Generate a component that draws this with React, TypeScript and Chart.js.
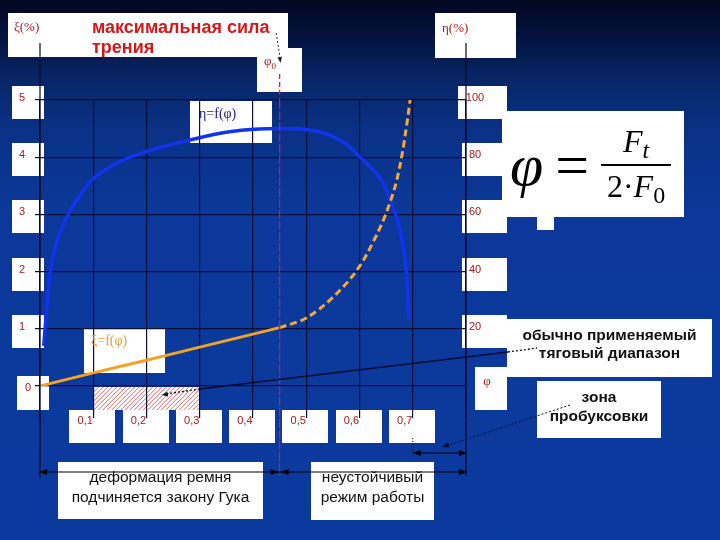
import React, { useEffect, useRef, useState } from "react";
import { Chart, registerables } from "chart.js";

Chart.register(...registerables);

// ---------- data ----------
const xTickValues = [0.1, 0.2, 0.3, 0.4, 0.5, 0.6, 0.7];
const xTickLabels = ["0,1", "0,2", "0,3", "0,4", "0,5", "0,6", "0,7"];
const xiTickValues = [0, 1, 2, 3, 4, 5];
const xiTickLabels = ["0", "1", "2", "3", "4", "5"];
const etaTickValues = [20, 40, 60, 80, 100];
const etaTickLabels = ["20", "40", "60", "80", "100"];

const phiMax = 0.8;
const xiMax = 5;
const etaMax = 100;
const phi0 = 0.45;
const hookeStart = 0.1;
const hookeEnd = 0.3;
const slipStart = 0.7;

// ξ = f(φ), solid part (Hooke region)
const xiSolidPhi = [0, 0.1, 0.2, 0.3, 0.45];
const xiSolidVal = [0, 0.23, 0.45, 0.68, 1.02];
// ξ = f(φ), dashed part
const xiDashPhi = [0.45, 0.5, 0.55, 0.6, 0.63, 0.65, 0.67, 0.68, 0.69, 0.695];
const xiDashVal = [1.02, 1.19, 1.55, 2.09, 2.6, 3.02, 3.6, 4.05, 4.65, 5.0];
// η = f(φ)
const etaPhi = [0.007, 0.0125, 0.019, 0.031, 0.053, 0.069, 0.094, 0.1375, 0.2, 0.281, 0.356, 0.45, 0.506, 0.569, 0.6, 0.644, 0.669, 0.681, 0.688, 0.693];
const etaVal = [14, 27, 39.5, 50, 60, 65, 71.4, 77.3, 82, 86, 88.9, 90, 89.5, 85.4, 80.2, 70.9, 59.2, 49.9, 39.4, 23];

const zip = (xs: number[], ys: number[]) => xs.map((x, i) => ({ x, y: ys[i] }));

const GRID = "#0a0f38";
const LINE = "#06082a";
const LABEL_RED = "#a81818";
const SANS = '"Liberation Sans", Arial, sans-serif';
const SERIF = '"Liberation Serif", "Times New Roman", serif';

function arrowHead(ctx: CanvasRenderingContext2D, x: number, y: number, ang: number, size = 7) {
  ctx.save();
  ctx.translate(x, y);
  ctx.rotate(ang);
  ctx.beginPath();
  ctx.moveTo(0, 0);
  ctx.lineTo(-size, -size * 0.38);
  ctx.lineTo(-size, size * 0.38);
  ctx.closePath();
  ctx.fill();
  ctx.restore();
}

const decorPlugin = {
  id: "decor",
  beforeDraw(chart: any) {
    const { ctx, scales } = chart;
    const xs = scales.x;
    const ys = scales.y;
    const y0 = ys.getPixelForValue(0);
    const xa = xs.getPixelForValue(hookeStart);
    const xb = xs.getPixelForValue(hookeEnd);
    const top = y0 + 1;
    const bot = y0 + 24;
    ctx.save();
    ctx.fillStyle = "#ffffff";
    ctx.fillRect(xa, top, xb - xa, bot - top);
    ctx.beginPath();
    ctx.rect(xa, top, xb - xa, bot - top);
    ctx.clip();
    ctx.strokeStyle = "#e05050";
    ctx.lineWidth = 0.9;
    for (let s = xa - 40; s < xb + 40; s += 4.5) {
      ctx.beginPath();
      ctx.moveTo(s, bot);
      ctx.lineTo(s + (bot - top), top);
      ctx.stroke();
    }
    ctx.restore();
  },
  afterDraw(chart: any) {
    const { ctx, scales } = chart;
    const xs = scales.x;
    const ys = scales.y;
    const xL = xs.getPixelForValue(0);
    const xR = xs.getPixelForValue(phiMax);
    const xP = xs.getPixelForValue(phi0);
    const xS = xs.getPixelForValue(slipStart);
    const y0 = ys.getPixelForValue(0);
    const yTop = ys.getPixelForValue(xiMax);
    ctx.save();
    // long axis lines
    ctx.strokeStyle = LINE;
    ctx.lineWidth = 1.2;
    ctx.beginPath();
    ctx.moveTo(xL, 43);
    ctx.lineTo(xL, 478);
    ctx.moveTo(xR, 43);
    ctx.lineTo(xR, 476);
    ctx.stroke();
    // φ0 line
    ctx.setLineDash([5, 3]);
    ctx.strokeStyle = "#d0203a";
    ctx.lineWidth = 1.3;
    ctx.beginPath();
    ctx.moveTo(xP, 74);
    ctx.lineTo(xP, yTop);
    ctx.stroke();
    ctx.strokeStyle = "#8a2c8c";
    ctx.setLineDash([9, 2]);
    ctx.beginPath();
    ctx.moveTo(xP, yTop);
    ctx.lineTo(xP, 476);
    ctx.stroke();
    // dotted arrow from "сила" to φ0
    ctx.setLineDash([2, 2]);
    ctx.strokeStyle = "#222";
    ctx.lineWidth = 1;
    ctx.beginPath();
    ctx.moveTo(xP - 3.5, 33);
    ctx.lineTo(xP + 0.5, 58);
    ctx.stroke();
    ctx.setLineDash([]);
    ctx.fillStyle = "#222";
    arrowHead(ctx, xP + 1, 63, Math.atan2(25, 4), 6);

    // dimension lines
    ctx.strokeStyle = "#000";
    ctx.fillStyle = "#000";
    ctx.lineWidth = 1;
    const yd = 472;
    ctx.beginPath();
    ctx.moveTo(xL, yd);
    ctx.lineTo(xR, yd);
    ctx.stroke();
    arrowHead(ctx, xL - 1, yd, Math.PI, 8);
    arrowHead(ctx, xP - 1, yd, 0, 8);
    arrowHead(ctx, xP + 1, yd, Math.PI, 8);
    arrowHead(ctx, xR + 1, yd, 0, 8);
    const ys2 = 453;
    ctx.beginPath();
    ctx.moveTo(xS, ys2);
    ctx.lineTo(xR, ys2);
    ctx.stroke();
    arrowHead(ctx, xS, ys2, Math.PI, 8);
    arrowHead(ctx, xR + 1, ys2, 0, 8);
    // dotted tick under 0,7
    ctx.setLineDash([1, 2]);
    ctx.beginPath();
    ctx.moveTo(xS, y0 + 52);
    ctx.lineTo(xS, ys2 - 2);
    ctx.stroke();

    // pointer: traction range -> hatched area
    const xb = xs.getPixelForValue(hookeEnd);
    ctx.strokeStyle = "#080a30";
    ctx.setLineDash([]);
    ctx.lineWidth = 1.3;
    ctx.beginPath();
    ctx.moveTo(xb, y0 + 3);
    ctx.lineTo(508, 352);
    ctx.stroke();
    ctx.setLineDash([2, 2]);
    ctx.beginPath();
    ctx.moveTo(508, 352);
    ctx.lineTo(537, 348);
    ctx.stroke();
    ctx.beginPath();
    ctx.moveTo(xb, y0 + 3);
    ctx.lineTo(xb - 34, y0 + 8);
    ctx.stroke();
    ctx.setLineDash([]);
    ctx.fillStyle = "#080a30";
    arrowHead(ctx, xb - 38, y0 + 9, Math.atan2(5, -34), 6);

    // pointer: slip zone
    ctx.setLineDash([2, 2]);
    ctx.lineWidth = 1;
    ctx.beginPath();
    ctx.moveTo(570, 405);
    ctx.lineTo(446, 446);
    ctx.stroke();
    ctx.setLineDash([]);
    arrowHead(ctx, 442, 447, Math.atan2(41, -124), 7);
    ctx.restore();
  },
};

type Pos = {
  xt: number[];
  yl: number[];
  yr: number[];
  y0: number;
  xR: number;
};

const Box = ({ l, t, w, h }: { l: number; t: number; w: number; h: number }) => (
  <div style={{ position: "absolute", left: l, top: t, width: w, height: h, background: "#ffffff" }} />
);

const Txt = ({ x, y, children, style }: any) => (
  <div
    style={{
      position: "absolute",
      left: x,
      top: y,
      transform: "translate(-50%, -50%)",
      whiteSpace: "nowrap",
      fontFamily: SANS,
      lineHeight: 1,
      ...style,
    }}
  >
    {children}
  </div>
);

export default function App() {
  const canvasRef = useRef<HTMLCanvasElement | null>(null);
  const [pos, setPos] = useState<Pos | null>(null);

  useEffect(() => {
    if (!canvasRef.current) return;
    const chart = new Chart(canvasRef.current, {
      type: "scatter",
      data: {
        datasets: [
          {
            label: "ξ=f(φ)",
            data: zip(xiSolidPhi, xiSolidVal),
            showLine: true,
            borderColor: "#f2a324",
            borderWidth: 3,
            pointRadius: 0,
            yAxisID: "y",
            cubicInterpolationMode: "monotone",
          },
          {
            label: "ξ=f(φ) (dashed)",
            data: zip(xiDashPhi, xiDashVal),
            showLine: true,
            borderColor: "#f4aa34",
            borderDash: [7, 4],
            borderWidth: 3,
            pointRadius: 0,
            yAxisID: "y",
            cubicInterpolationMode: "monotone",
          },
          {
            label: "η=f(φ)",
            data: zip(etaPhi, etaVal),
            showLine: true,
            borderColor: "#1233ec",
            borderWidth: 3.5,
            pointRadius: 0,
            yAxisID: "y2",
            cubicInterpolationMode: "monotone",
          },
        ],
      },
      options: {
        animation: false,
        responsive: false,
        devicePixelRatio: 1,
        layout: { padding: { left: 35, top: 100, right: 254, bottom: 122 } },
        plugins: { legend: { display: false }, tooltip: { enabled: false } },
        scales: {
          x: {
            type: "linear",
            min: 0,
            max: phiMax,
            ticks: { display: false, stepSize: 0.1 },
            grid: { color: GRID, lineWidth: 1.2, drawTicks: true, tickLength: 32, tickColor: GRID },
            border: { display: false },
          },
          y: {
            type: "linear",
            position: "left",
            min: 0,
            max: xiMax,
            ticks: { display: false, stepSize: 1 },
            grid: { color: GRID, lineWidth: 1.2, drawTicks: true, tickLength: 5, tickColor: LINE },
            border: { display: false },
          },
          y2: {
            type: "linear",
            position: "right",
            min: 0,
            max: etaMax,
            ticks: { display: false, stepSize: 20 },
            grid: { display: false, drawTicks: false, tickLength: 0 },
            border: { display: false },
            afterFit: (s: any) => {
              s.width = 0;
            },
          },
        },
      },
      plugins: [decorPlugin],
    } as any);
    const xs = chart.scales.x;
    const ys = chart.scales.y;
    const y2 = chart.scales.y2;
    setPos({
      xt: xTickValues.map((v) => xs.getPixelForValue(v)),
      yl: xiTickValues.map((v) => ys.getPixelForValue(v)),
      yr: etaTickValues.map((v) => y2.getPixelForValue(v)),
      y0: ys.getPixelForValue(0),
      xR: xs.getPixelForValue(phiMax),
    });
    return () => chart.destroy();
  }, []);

  return (
    <div
      style={{
        position: "absolute",
        left: 0,
        top: 0,
        width: 720,
        height: 540,
        overflow: "hidden",
        background:
          "linear-gradient(to bottom, #020820 0%, #03103a 6%, #062563 14%, #0a3186 24%, #0b389a 40%, #0b3a9e 100%)",
      }}
    >
      {/* white boxes (below canvas) */}
      <div style={{ position: "absolute", left: 0, top: 0, zIndex: 0 }}>
        <Box l={8} t={13} w={280} h={44} />
        <Box l={257} t={48} w={45} h={44} />
        <Box l={435} t={13} w={81} h={45} />
        <Box l={502} t={111} w={182} h={106} />
        <Box l={537} t={216} w={17} h={14} />
        <Box l={190} t={101} w={82} h={42} />
        <Box l={84} t={329} w={81} h={44} />
        <Box l={507} t={319} w={205} h={58} />
        <Box l={537} t={381} w={124} h={57} />
        <Box l={58} t={462} w={205} h={57} />
        <Box l={311} t={462} w={123} h={58} />
        {pos &&
          pos.xt.map((x, i) => <Box key={"xb" + i} l={x - 24} t={pos.y0 + 24} w={46} h={33} />)}
        {pos &&
          pos.yl.map((y, i) =>
            i === 0 ? (
              <Box key={"lb" + i} l={17} t={y - 10} w={32} h={34} />
            ) : (
              <Box key={"lb" + i} l={12} t={y - 14} w={32} h={33} />
            )
          )}
        {pos &&
          pos.yr.map((y, i) =>
            i === pos.yr.length - 1 ? (
              <Box key={"rb" + i} l={pos.xR - 8} t={y - 14} w={49} h={33} />
            ) : (
              <Box key={"rb" + i} l={pos.xR - 4} t={y - 14} w={45} h={33} />
            )
          )}
        {pos && <Box l={pos.xR + 9} t={pos.y0 - 19} w={32} h={43} />}
      </div>

      <canvas
        ref={canvasRef}
        width={720}
        height={540}
        style={{ position: "absolute", left: 0, top: 0, width: 720, height: 540, zIndex: 1 }}
      />

      {/* texts (above canvas) */}
      <div style={{ position: "absolute", left: 0, top: 0, zIndex: 2 }}>
        <div style={{ position: "absolute", left: 14, top: 19, fontFamily: SERIF, fontSize: 13, color: LABEL_RED, whiteSpace: "nowrap" }}>
          ξ(%)
        </div>
        <div
          style={{
            position: "absolute",
            left: 92,
            top: 17,
            fontFamily: SANS,
            fontWeight: "bold",
            fontSize: 18,
            lineHeight: "20px",
            color: "#d21818",
            whiteSpace: "nowrap",
          }}
        >
          максимальная сила
          <br />
          трения
        </div>
        <div style={{ position: "absolute", left: 264, top: 53, fontFamily: SERIF, fontSize: 13, color: LABEL_RED, whiteSpace: "nowrap" }}>
          φ<sub style={{ fontSize: 9 }}>0</sub>
        </div>
        <div style={{ position: "absolute", left: 442, top: 20, fontFamily: SERIF, fontSize: 13, color: LABEL_RED, whiteSpace: "nowrap" }}>
          η(%)
        </div>

        {/* formula */}
        <div
          style={{
            position: "absolute",
            left: 510,
            top: 122,
            height: 86,
            display: "flex",
            alignItems: "center",
            fontFamily: SERIF,
            color: "#000",
          }}
        >
          <span style={{ fontStyle: "italic", fontSize: 60, lineHeight: 1 }}>φ</span>
          <span style={{ fontSize: 60, lineHeight: 1, margin: "0 12px 0 12px" }}>=</span>
          <span style={{ display: "inline-flex", flexDirection: "column", alignItems: "center" }}>
            <span style={{ fontSize: 32, fontStyle: "italic", lineHeight: "34px" }}>
              F<span style={{ fontSize: 24, position: "relative", top: 6 }}>t</span>
            </span>
            <span style={{ borderTop: "2px solid #000", width: 70, margin: "3px 0 3px 0" }} />
            <span style={{ fontSize: 32, lineHeight: "34px" }}>
              2·<i>F</i>
              <span style={{ fontSize: 24, position: "relative", top: 6 }}>0</span>
            </span>
          </span>
        </div>

        <div style={{ position: "absolute", left: 199, top: 106, fontFamily: SERIF, fontSize: 14, color: "#1a1a78", whiteSpace: "nowrap" }}>
          η=f(φ)
        </div>
        <div style={{ position: "absolute", left: 91, top: 333, fontFamily: SERIF, fontSize: 14, color: "#e8a040", whiteSpace: "nowrap" }}>
          ξ=f(φ)
        </div>

        <div
          style={{
            position: "absolute",
            left: 507,
            top: 326,
            width: 205,
            textAlign: "center",
            fontFamily: SANS,
            fontWeight: "bold",
            fontSize: 15.5,
            lineHeight: "18px",
            color: "#111",
          }}
        >
          обычно применяемый
          <br />
          тяговый диапазон
        </div>
        <div
          style={{
            position: "absolute",
            left: 537,
            top: 387,
            width: 124,
            textAlign: "center",
            fontFamily: SANS,
            fontWeight: "bold",
            fontSize: 15.5,
            lineHeight: "19px",
            color: "#111",
          }}
        >
          зона
          <br />
          пробуксовки
        </div>
        <div
          style={{
            position: "absolute",
            left: 58,
            top: 467,
            width: 205,
            textAlign: "center",
            fontFamily: SANS,
            fontSize: 15.5,
            lineHeight: "20px",
            color: "#111",
          }}
        >
          деформация ремня
          <br />
          подчиняется закону Гука
        </div>
        <div
          style={{
            position: "absolute",
            left: 311,
            top: 467,
            width: 123,
            textAlign: "center",
            fontFamily: SANS,
            fontSize: 15.5,
            lineHeight: "20px",
            color: "#111",
          }}
        >
          неустойчивый
          <br />
          режим работы
        </div>

        {pos &&
          pos.xt.map((x, i) => (
            <Txt key={"xl" + i} x={x - 8} y={pos.y0 + 34} style={{ fontSize: 11, color: LABEL_RED }}>
              {xTickLabels[i]}
            </Txt>
          ))}
        {pos &&
          pos.yl.map((y, i) => (
            <Txt key={"yl" + i} x={i === 0 ? 28 : 22} y={i === 0 ? y + 1 : y - 3} style={{ fontSize: 11, color: LABEL_RED }}>
              {xiTickLabels[i]}
            </Txt>
          ))}
        {pos &&
          pos.yr.map((y, i) => (
            <Txt key={"yr" + i} x={pos.xR + 9} y={y - 3} style={{ fontSize: 11, color: LABEL_RED }}>
              {etaTickLabels[i]}
            </Txt>
          ))}
        {pos && (
          <Txt x={pos.xR + 21} y={pos.y0 - 6} style={{ fontSize: 13, color: LABEL_RED, fontFamily: SERIF }}>
            φ
          </Txt>
        )}
      </div>
    </div>
  );
}
